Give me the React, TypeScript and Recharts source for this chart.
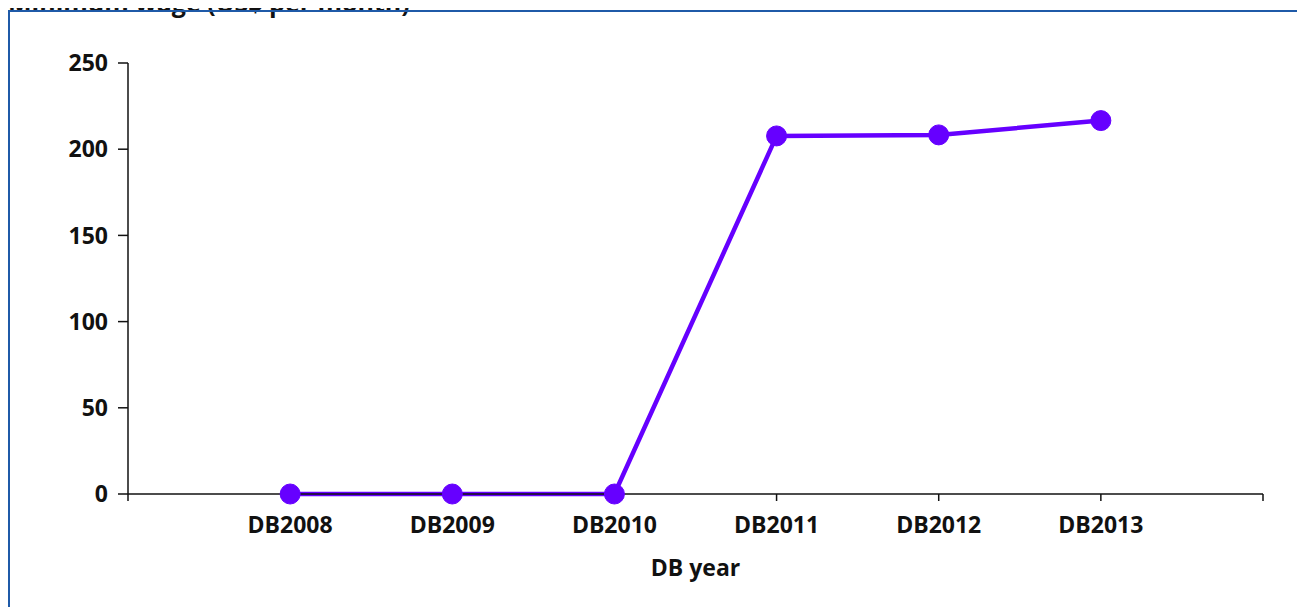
import { LineChart, Line, XAxis, YAxis } from "recharts";

// DB report years, plotted at positions 1..6 (0 and 7 are empty end slots)
const categories = ["DB2008", "DB2009", "DB2010", "DB2011", "DB2012", "DB2013"];
const wages = [0, 0, 0, 207.7, 208.3, 216.6];
const yTicks = [0, 50, 100, 150, 200, 250];
const xTicks = [0, 1, 2, 3, 4, 5, 6, 7];

const title = "Minimum wage (US$ per month)";
const xTitle = "DB year";

const font = "'Open Sans', 'Noto Sans', sans-serif";
const lineColor = "#6600ff";
const axisColor = "#111";

const data = categories.map((name, i) => ({ pos: i + 1, name, value: wages[i] }));

export default function App() {
  return (
    <div
      style={{
        position: "relative",
        width: 1297,
        height: 599,
        overflow: "hidden",
        fontFamily: font,
      }}
    >
      <div
        style={{
          position: "absolute",
          left: 0,
          top: -20,
          fontSize: 25,
          fontWeight: 700,
          color: "#111",
          whiteSpace: "nowrap",
          lineHeight: "28px",
        }}
      >
        {title}
      </div>
      <div
        style={{
          position: "absolute",
          left: 0,
          top: 2,
          width: 1340,
          height: 640,
          border: "2px solid #1f5aa8",
          boxSizing: "border-box",
          background: "transparent",
        }}
      />
      <LineChart
        width={1297}
        height={599}
        data={data}
        margin={{ top: 55, right: 42, bottom: 33, left: 0 }}
        style={{ position: "absolute", left: 0, top: 0 }}
      >
        <XAxis
          dataKey="pos"
          type="number"
          domain={[0, 7]}
          ticks={xTicks}
          interval={0}
          tickFormatter={(v: number) => categories[v - 1] ?? ""}
          height={80}
          tickSize={7}
          tickMargin={16}
          stroke={axisColor}
          strokeWidth={1.5}
          tick={{ fill: "#111", fontSize: 23, fontWeight: 700, fontFamily: font }}
          label={{
            value: xTitle,
            position: "insideBottom",
            offset: -2,
            fill: "#111",
            fontSize: 23,
            fontWeight: 700,
            fontFamily: font,
          }}
        />
        <YAxis
          domain={[0, 250]}
          ticks={yTicks}
          interval={0}
          width={120}
          tickSize={10}
          tickMargin={10}
          stroke={axisColor}
          strokeWidth={1.5}
          tick={{ fill: "#111", fontSize: 23, fontWeight: 700, fontFamily: font }}
        />
        <Line
          dataKey="value"
          stroke={lineColor}
          strokeWidth={4.5}
          dot={{ r: 10, fill: lineColor, stroke: lineColor, strokeWidth: 1 }}
          activeDot={false}
          isAnimationActive={false}
        />
      </LineChart>
    </div>
  );
}
